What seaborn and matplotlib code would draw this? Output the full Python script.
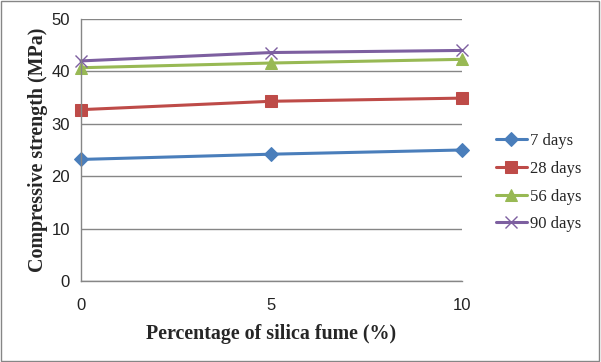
import matplotlib
matplotlib.use("Agg")
import matplotlib.pyplot as plt
import seaborn as sns
import pandas as pd
from matplotlib.patches import Rectangle

silica = [0, 5, 10]
ages = ["7 days", "28 days", "56 days", "90 days"]
d7 = [23.2, 24.2, 25.0]
d28 = [32.7, 34.3, 34.9]
d56 = [40.7, 41.6, 42.3]
d90 = [42.0, 43.6, 44.0]

sns.set_style("white")
fig = plt.figure(figsize=(6.01, 3.62), dpi=100)
ax = fig.add_axes([81/601, 1-281/362, (461.5-81)/601, (281-19)/362])

colors = ["#4A7EBB", "#BE4B48", "#98B954", "#7D5FA0"]
markers = ["D", "s", "^", "x"]
msizes = [7, 8.5, 8.5, 9]
for name, vals, c, m, ms in zip(ages, [d7, d28, d56, d90], colors, markers, msizes):
    df = pd.DataFrame({"Silica": silica, "Strength": vals})
    kw = dict(markeredgecolor=c)
    if m == "x":
        kw["markeredgewidth"] = 1
    sns.lineplot(data=df, x="Silica", y="Strength", color=c, marker=m,
                 markersize=ms, linewidth=2.2, label=name, ax=ax, clip_on=False, **kw)
for line in ax.lines:
    line.set_clip_on(False)

ax.set_xlim(0, 10)
ax.set_ylim(0, 50)
ax.set_xticks([0, 5, 10])
ax.set_yticks(range(0, 51, 10))
ax.yaxis.grid(True, color="#868686", linewidth=1)
ax.set_axisbelow(True)
for s in ["top", "right"]:
    ax.spines[s].set_visible(False)
for s in ["left", "bottom"]:
    ax.spines[s].set_color("#868686")
    ax.spines[s].set_linewidth(1)
ax.tick_params(axis="both", which="major", length=5, width=1, color="#868686",
               labelsize=12, labelcolor="#222222", pad=7)
for lab in ax.get_xticklabels() + ax.get_yticklabels():
    lab.set_family("Liberation Sans")
ax.tick_params(axis="y", pad=3)

ax.set_xlabel("Percentage of silica fume (%)", family="Liberation Serif",
              fontweight="bold", fontsize=14.4, labelpad=8)
ax.set_ylabel("Compressive strength (MPa)", family="Liberation Serif",
              fontweight="bold", fontsize=14.4, labelpad=2)

leg = ax.legend(loc="center left", bbox_to_anchor=(1.05, 0.375), frameon=False,
                prop={"family": "Liberation Serif", "size": 12},
                handlelength=1.9, handletextpad=0.15, labelspacing=0.7)

fig.patches.append(Rectangle((0.002, 0.003), 0.995, 0.993, transform=fig.transFigure,
                             fill=False, edgecolor="#868686", linewidth=1))
fig.savefig("out.png", dpi=100)
